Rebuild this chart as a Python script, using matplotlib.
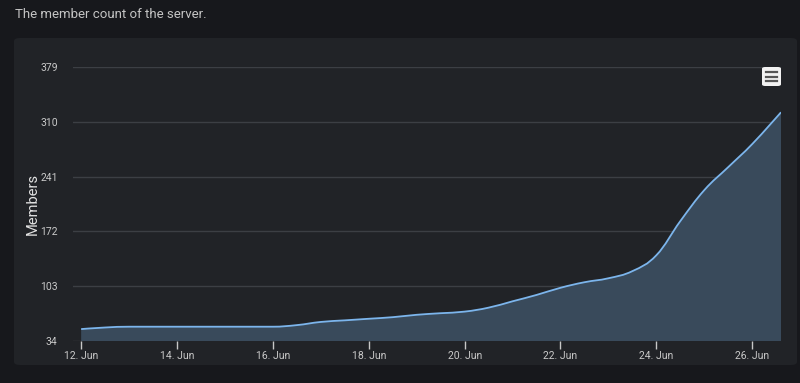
import matplotlib
matplotlib.use("Agg")
import matplotlib.pyplot as plt
from matplotlib.path import Path
from matplotlib.patches import PathPatch, FancyBboxPatch
import numpy as np

# ---- data (day of June, member count) ----
days = [12.0, 12.5, 13.0, 14.0, 15.0, 16.0, 16.5, 17.0, 17.5, 18.0, 18.5, 19.0,
        19.5, 20.0, 20.5, 21.0, 21.5, 22.0, 22.5, 23.0, 23.5, 24.0, 24.5, 25.0,
        25.5, 26.0, 26.6]
members = [49, 51, 52, 52, 52, 52, 54, 58, 60, 62, 64, 67,
           69, 71, 76, 84, 92, 101, 108, 113, 122, 142, 185, 224,
           253, 282, 322]
y_ticks = [34, 103, 172, 241, 310, 379]
x_ticks = [12, 14, 16, 18, 20, 22, 24, 26]
x_labels = ["12. Jun", "14. Jun", "16. Jun", "18. Jun", "20. Jun", "22. Jun", "24. Jun", "26. Jun"]
title_text = "The member count of the server."
y_title = "Members"

FIG_BG = "#17181c"
PANEL_BG = "#212327"
LINE = "#7cb5ec"
FILL = "#394a5b"
GRID = "#3c3f44"
TXT = "#c9c9c9"

plt.rcParams['font.family'] = ['Roboto', 'DejaVu Sans']

W, H = 800, 383
fig = plt.figure(figsize=(W / 100, H / 100), dpi=100, facecolor=FIG_BG)

# panel
panel = FancyBboxPatch((14 / W, 1 - 365 / H), (797 - 14) / W, (365 - 38) / H,
                       boxstyle="round,pad=0,rounding_size=0.008",
                       transform=fig.transFigure, facecolor=PANEL_BG,
                       edgecolor="none", zorder=-10)
fig.patches.append(panel)

fig.text(15 / W, 1 - 15 / H, title_text, color="#c4c4c4", fontsize=9.5,
         va="center", ha="left")

ax = fig.add_axes([73 / W, 1 - 341 / H, (781 - 73) / W, (341 - 67) / H])
ax.set_zorder(1)
ax.set_facecolor("none")
ax.set_xlim(11.83, 26.6)
ax.set_ylim(34, 379)


def spline_path(xs, ys, base):
    n = len(xs)
    sm, den = 1.5, 2.5
    left = [None] * n
    right = [None] * n
    for i in range(1, n - 1):
        x, y = xs[i], ys[i]
        px, py = xs[i - 1], ys[i - 1]
        nx, ny = xs[i + 1], ys[i + 1]
        lx = (sm * x + px) / den
        ly = (sm * y + py) / den
        rx = (sm * x + nx) / den
        ry = (sm * y + ny) / den
        if rx != lx:
            corr = ((ry - ly) * (rx - x)) / (rx - lx) + y - ry
            ly += corr
            ry += corr
        if (ly > py and ly > y) or (ly < py and ly < y):
            ly = max(py, y) if ly > max(py, y) else min(py, y)
            ry = 2 * y - ly
        if (ry > ny and ry > y) or (ry < ny and ry < y):
            ry = max(ny, y) if ry > max(ny, y) else min(ny, y)
            ly = 2 * y - ry
        left[i] = (lx, ly)
        right[i] = (rx, ry)
    verts = [(xs[0], ys[0])]
    codes = [Path.MOVETO]
    for i in range(1, n):
        c1 = right[i - 1] if right[i - 1] is not None else (xs[i - 1], ys[i - 1])
        c2 = left[i] if left[i] is not None else (xs[i], ys[i])
        verts += [c1, c2, (xs[i], ys[i])]
        codes += [Path.CURVE4] * 3
    line_path = Path(verts, codes)
    fverts = verts + [(xs[-1], base), (xs[0], base), (xs[0], ys[0])]
    fcodes = codes + [Path.LINETO, Path.LINETO, Path.CLOSEPOLY]
    return line_path, Path(fverts, fcodes)


line_path, fill_path = spline_path(days, members, 34)
ax.add_patch(PathPatch(fill_path, facecolor=FILL, edgecolor="none", zorder=2))
ax.add_patch(PathPatch(line_path, facecolor="none", edgecolor=LINE, lw=1.3, zorder=3))

ax.set_yticks(y_ticks)
ax.set_yticklabels([str(v) for v in y_ticks])
ax.set_xticks(x_ticks)
ax.set_xticklabels(x_labels)
ax.grid(axis="y", color=GRID, lw=1, zorder=1)
ax.set_axisbelow(True)
for s in ax.spines.values():
    s.set_visible(False)
ax.tick_params(axis="y", length=0, pad=11, labelsize=7.5, labelcolor=TXT)
ax.tick_params(axis="x", length=6, width=1, color="#c8c8c8", pad=1.5,
               labelsize=7.5, labelcolor=TXT)
ax.set_ylabel(y_title, color="#e2e2e2", fontsize=10.5)
ax.yaxis.set_label_coords((40 - 73) / 708, 0.5)

# menu icon
bx, by, bw, bh = 762, 67, 19, 19
icon = FancyBboxPatch((bx / W, 1 - (by + bh) / H), bw / W, bh / H,
                      boxstyle="round,pad=0,rounding_size=0.004",
                      transform=fig.transFigure, facecolor="#f2f2f2",
                      edgecolor="none", zorder=5)
fig.patches.append(icon)
for yy in (72, 76.5, 81):
    fig.add_artist(plt.Line2D([(bx + 4) / W, (bx + bw - 4) / W], [1 - yy / H, 1 - yy / H],
                              transform=fig.transFigure, color="#555555", lw=1.6,
                              zorder=6))

fig.savefig("out.png", dpi=100, facecolor=FIG_BG)
